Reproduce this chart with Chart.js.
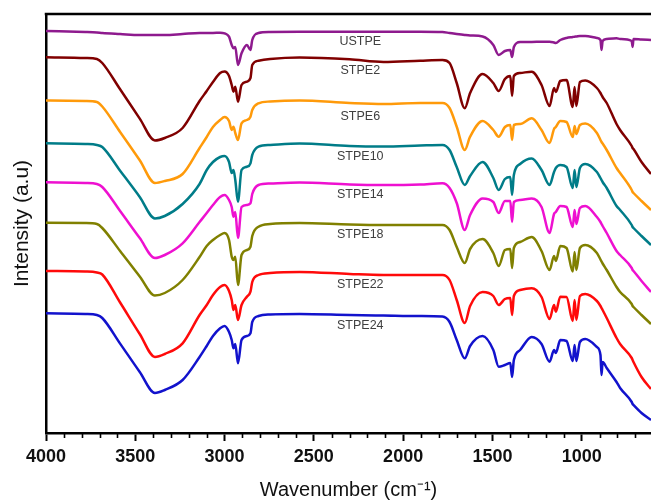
<!DOCTYPE html>
<html><head><meta charset="utf-8">
<script src="https://cdn.jsdelivr.net/npm/chart.js@4.4.1/dist/chart.umd.min.js"></script>
<style>html,body{margin:0;padding:0;background:#fff;overflow:hidden}</style>
</head><body>
<canvas id="c" width="651" height="502"></canvas>
<script>
// Wavenumber grid (cm-1) shared by all spectra
const wavenumbers = [4000,3780,3715,3685,3585,3475,3390,3335,3235,3140,3100,3065,3025,3000,2975,2960,2950,2940,2925,2905,2875,2855,2845,2810,2745,2580,2300,2110,1905,1780,1740,1700,1655,1625,1555,1495,1465,1430,1400,1390,1380,1345,1280,1225,1180,1155,1145,1120,1085,1050,1040,1030,1010,980,915,895,889,883,860,805,785,720,715,710,665,612];

// Offset intensities (a.u.)
const USTPE  = [402,401,400.5,400,399,398,398,398,399,400,400,400,400.3,399.7,396.3,388,384.7,386,368,379.7,388,383,393,400,401,401.3,401.3,401.3,401.3,401,400,399,398,397.5,396.5,388,378,382,383,376,386,391,391,391.3,391.3,390.5,390,393,395,396,396.3,396.5,397,397,395,393,383,392,394,394.7,394,392,386,394,393.5,393];
const STPE2  = [375.7,375,374,370,343.7,314.4,292.5,295,305,332,342,351,360,361.5,357,348,341.3,346.3,331.3,348,351.3,355,368,372.3,374,375.5,373.7,371,372.3,373,370,350,324.7,340,359,350,342,354,357,337,357,360,361.3,348,327,345,341,352,353,326,346,327,351,352.5,345,340,338,336,330,309,303,287,285,284,271,259];
const STPE6  = [332.5,332,331,326.5,301,272.7,250,252,259,285,296,306,313,316,312,303,306.3,300,293,309.7,313,316.3,323,329.7,331.5,332.5,330,329,330,330,325,306.3,283,296.3,312,303,296.3,306,308,293,308,309,314.7,303,290,304,306,312,311,296,307,299,308,309.5,300,293,291,289.5,283,265,260,243,241,240,232,223];
const STPE10 = [289.7,289,288,286,262.3,236,214.5,217,229,249,263,271,276,277,271,260,263,253,231.3,263,266.3,269.7,278,286.3,288,289.5,287,286.5,287.5,288,283,266,248,257,271,255,243,254,256,238,258,269,274.5,263,248,261,265,268,266,245,263,246,265,269,261,255,253,251,245,227,223,208,206,205,197,188];
const STPE14 = [250.7,250,249,246,222,195,175,178,189.7,211,220,228,236,238,233,226,216.3,221,195,226,228,229.7,239,248,249.5,250.5,248.5,248,248.5,249.7,245,230,203,218,234.5,231,220,232,232,211,231,233,234.5,226,200,219,221,227,226,206,223,209,225,227,216,211,209,207,200,182,178,165,163,162,152,141];
const STPE18 = [210.3,210,209,205,182,156.5,137.5,140,153,176,187,193,198,200,193,176.3,173,176.3,148,178,183,186.3,197,206.3,209,210,208.5,208,208,208,203,186,170,184,194,180,167,183,184,165,185,191,196,182,163,177,172,187,185,161.5,181,163,185,188,180,173.5,171.5,169.5,163,146,141,129,127,126,118,109];
const STPE22 = [162,161.5,160.5,158.5,130.5,99,76,79,89.7,118,128,138,146,148,142,133,123,128,113,128,136.3,141.3,151,158,160,161,159,158,158,158,153,133,110,127,141,137,128,134,135,118,137,143,144.7,136,114,128,121.3,136.3,136,112,133,113,137,139,132,127,125,123,115,95,89,75,73,71,56,44];
const STPE24 = [119.7,119,118,115,89.4,61,40,43,53,76,87,97,104.7,107,101,93,84.7,89,69.7,93,97,99.7,111,117,118.5,119,118,117.5,117,116.5,111,93,74.7,87,97,83,66.3,68,70,56,73,83,96,89,71.3,83,80,93,92,72,88,72,91,94,86,78,58,71,65,51,45,31,29,28,20,13];

const seriesNames = ['USTPE','STPE2','STPE6','STPE10','STPE14','STPE18','STPE22','STPE24'];
const seriesValues = [USTPE,STPE2,STPE6,STPE10,STPE14,STPE18,STPE22,STPE24];
const majorTicks = [1000,1500,2000,2500,3000,3500,4000];
const minorTicks = [3900,3800,3700,3600,3400,3300,3200,3100,2900,2800,2700,2600,2400,2300,2200,2100,1900,1800,1700,1600,1400,1300,1200,1100,900,800,700];

// styling / placement (not data)
const colors = ['#8E1A8E','#800000','#FF9A0A','#007C88','#EE10D0','#808000','#FF0A0A','#1212CC'];
const labelPlace = {x: 2240, y: [391, 362, 316, 276, 238, 198, 148, 107]};
const FONT = "'Liberation Sans', Arial, sans-serif";

const extras = {
  id: 'extras',
  afterDraw(chart) {
    const {ctx, chartArea: a, scales: {x, y}} = chart;
    ctx.save();
    // top frame line
    ctx.strokeStyle = '#000'; ctx.lineWidth = 2.5;
    ctx.beginPath(); ctx.moveTo(a.left - 1.25, a.top); ctx.lineTo(a.right, a.top); ctx.stroke();
    // minor ticks
    ctx.lineWidth = 1.6;
    minorTicks.forEach(v => {
      const px = Math.round(x.getPixelForValue(v)) + 0.5;
      ctx.beginPath(); ctx.moveTo(px, a.bottom); ctx.lineTo(px, a.bottom + 5); ctx.stroke();
    });
    // series labels
    ctx.fillStyle = '#404040';
    ctx.font = '12.5px ' + FONT;
    ctx.textAlign = 'center'; ctx.textBaseline = 'middle';
    seriesNames.forEach((n, i) => {
      ctx.fillText(n, x.getPixelForValue(labelPlace.x), y.getPixelForValue(labelPlace.y[i]));
    });
    ctx.restore();
  }
};

new Chart(document.getElementById('c'), {
  type: 'line',
  data: {
    datasets: seriesNames.map((n, i) => ({
      label: n,
      data: wavenumbers.map((w, k) => ({x: w, y: seriesValues[i][k]})),
      borderColor: colors[i],
      backgroundColor: colors[i],
      borderWidth: 2.5,
      pointRadius: 0,
      fill: false,
      cubicInterpolationMode: 'monotone'
    }))
  },
  options: {
    responsive: false,
    animation: false,
    devicePixelRatio: 1,
    layout: {padding: {left: 0, right: 0, top: 14, bottom: 0}},
    plugins: {legend: {display: false}, tooltip: {enabled: false}},
    scales: {
      x: {
        type: 'linear', reverse: true, min: 612, max: 4000,
        afterBuildTicks: s => { s.ticks = majorTicks.map(v => ({value: v})); },
        afterFit: s => { s.height = 69; },
        grid: {drawOnChartArea: false, drawTicks: true, tickLength: 8, tickWidth: 2, tickColor: '#000'},
        border: {display: true, color: '#000', width: 2.5},
        ticks: {color: '#111', autoSkip: false, maxRotation: 0, padding: 5,
                callback: v => String(v),
                font: {family: FONT, size: 18, weight: 'bold'}},
        title: {display: true, text: 'Wavenumber (cm\u207B\u00B9)', color: '#111',
                font: {family: FONT, size: 20}, padding: {top: 0, bottom: 0}}
      },
      y: {
        min: 0, max: 419,
        afterFit: s => { s.width = 46; },
        ticks: {display: false},
        grid: {drawOnChartArea: false, drawTicks: false},
        border: {display: true, color: '#000', width: 2.5},
        title: {display: true, text: 'Intensity (a.u)', color: '#111',
                font: {family: FONT, size: 21}, padding: {top: 10, bottom: 0}}
      }
    }
  },
  plugins: [extras]
});
</script>
</body></html>
